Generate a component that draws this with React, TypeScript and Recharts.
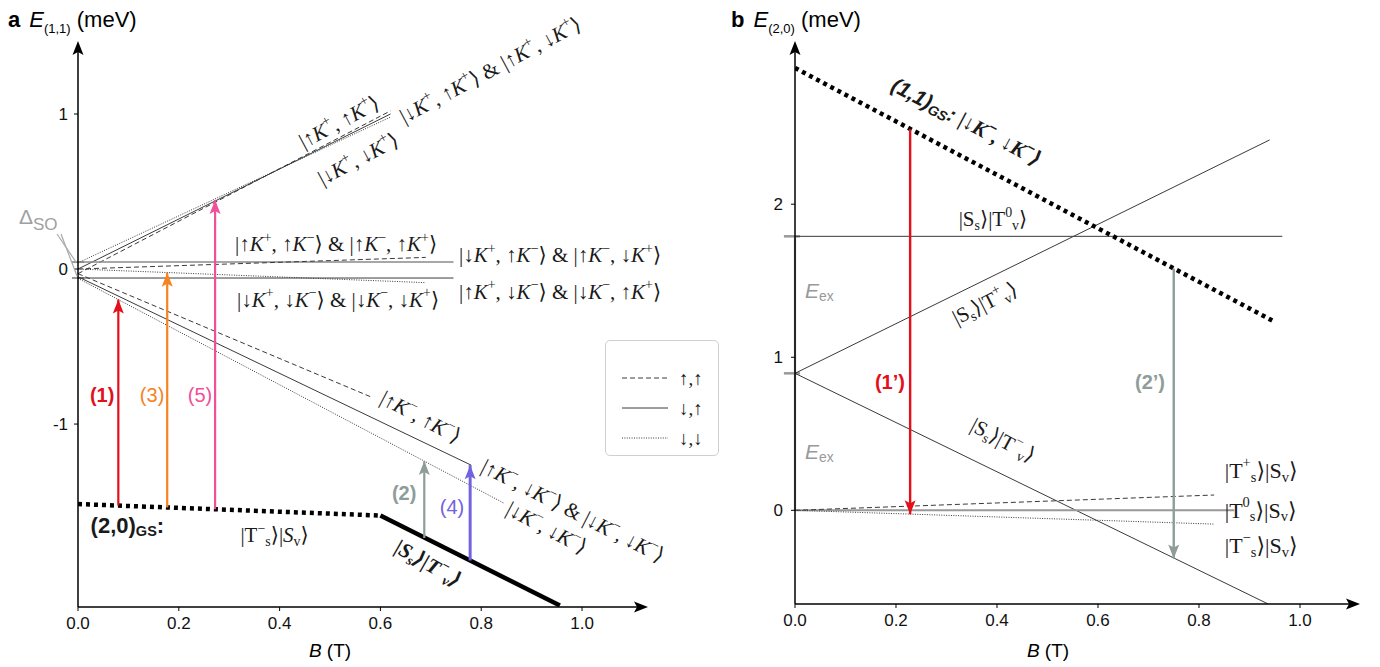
import React from 'react';
import { ComposedChart, Line, XAxis, YAxis, ReferenceDot, ReferenceLine } from 'recharts';

type Pt = { B: number; E: number };

const SANS = '"Liberation Sans", Arial, sans-serif';
const SERIF = '"Liberation Serif", "DejaVu Serif", serif';

// ---------- panel a : (1,1) levels, energy in meV vs field in T ----------
const A_X_MAX = 1.115;
const A_Y_MIN = -2.18;
const A_Y_MAX = 1.445;
const aTicksX = [0, 0.2, 0.4, 0.6, 0.8, 1.0];
const aTicksY = [-1, 0, 1];

const upDashed: Pt[] = [{ B: 0, E: -0.03 }, { B: 0.62, E: 1.02 }];
const upSolid: Pt[] = [{ B: 0, E: 0.0 }, { B: 0.62, E: 1.0 }];
const upDotted: Pt[] = [{ B: 0, E: 0.04 }, { B: 0.62, E: 0.98 }];
const midSolidTop: Pt[] = [{ B: 0, E: 0.045 }, { B: 0.745, E: 0.045 }];
const midDashed: Pt[] = [{ B: 0, E: 0.0 }, { B: 0.69, E: 0.075 }];
const midDotted: Pt[] = [{ B: 0, E: 0.0 }, { B: 0.69, E: -0.088 }];
const midSolidBottom: Pt[] = [{ B: 0, E: -0.058 }, { B: 0.745, E: -0.058 }];
const lowDashed: Pt[] = [{ B: 0, E: -0.03 }, { B: 0.585, E: -0.83 }];
const lowSolid: Pt[] = [{ B: 0, E: -0.05 }, { B: 0.78, E: -1.265 }];
const lowDotted: Pt[] = [{ B: 0, E: -0.06 }, { B: 0.845, E: -1.51 }];
const gs20Dotted: Pt[] = [{ B: 0, E: -1.516 }, { B: 0.6, E: -1.59 }];
const gs20Solid: Pt[] = [{ B: 0.6, E: -1.59 }, { B: 0.956, E: -2.17 }];

// transitions: [start, end], arrow head sits at the end point
const tr1: Pt[] = [{ B: 0.08, E: -1.526 }, { B: 0.08, E: -0.197 }];
const tr3: Pt[] = [{ B: 0.177, E: -1.538 }, { B: 0.177, E: -0.024 }];
const tr5: Pt[] = [{ B: 0.272, E: -1.55 }, { B: 0.272, E: 0.445 }];
const tr2: Pt[] = [{ B: 0.687, E: -1.735 }, { B: 0.687, E: -1.239 }];
const tr4: Pt[] = [{ B: 0.778, E: -1.88 }, { B: 0.778, E: -1.265 }];

// ---------- panel b : (2,0) levels ----------
const B_X_MAX = 1.103;
const B_Y_MIN = -0.612;
const B_Y_MAX = 3.04;
const bTicksX = [0, 0.2, 0.4, 0.6, 0.8, 1.0];
const bTicksY = [0, 1, 2];

const gs11: Pt[] = [{ B: 0, E: 2.89 }, { B: 0.945, E: 1.24 }];
const ssT0v: Pt[] = [{ B: 0, E: 1.79 }, { B: 0.965, E: 1.79 }];
const ssTpv: Pt[] = [{ B: 0, E: 0.895 }, { B: 0.94, E: 2.42 }];
const ssTmv: Pt[] = [{ B: 0, E: 0.895 }, { B: 0.937, E: -0.612 }];
const T0sSv: Pt[] = [{ B: 0, E: 0 }, { B: 0.87, E: 0 }];
const TpsSv: Pt[] = [{ B: 0, E: 0 }, { B: 0.83, E: 0.1 }];
const TmsSv: Pt[] = [{ B: 0, E: 0 }, { B: 0.83, E: -0.09 }];
const tr1p: Pt[] = [{ B: 0.228, E: 2.49 }, { B: 0.228, E: -0.025 }];
const tr2p: Pt[] = [{ B: 0.75, E: 1.58 }, { B: 0.75, E: -0.315 }];
const eexMarks = [0.895, 1.79];

const RED = '#e3101c';
const ORANGE = '#f7821e';
const PINK = '#f0509a';
const GREY = '#8e9d9a';
const PURPLE = '#7262e0';
const INK = '#3a3a3a';

type Spec = { id: string; data: Pt[]; stroke: string; width?: number; dash?: string; arrow?: boolean };

const aSeries: Spec[] = [
  { id: 'upDashed', data: upDashed, stroke: INK, dash: '5 3' },
  { id: 'upSolid', data: upSolid, stroke: INK },
  { id: 'upDotted', data: upDotted, stroke: INK, dash: '1 1.4' },
  { id: 'midSolidTop', data: midSolidTop, stroke: '#8a8a8a', width: 1.4 },
  { id: 'midDashed', data: midDashed, stroke: INK, dash: '5 3' },
  { id: 'midDotted', data: midDotted, stroke: INK, dash: '1 1.4' },
  { id: 'midSolidBottom', data: midSolidBottom, stroke: INK },
  { id: 'lowDashed', data: lowDashed, stroke: INK, dash: '5 3' },
  { id: 'lowSolid', data: lowSolid, stroke: INK },
  { id: 'lowDotted', data: lowDotted, stroke: INK, dash: '1 1.4' },
  { id: 'gs20Dotted', data: gs20Dotted, stroke: '#000', width: 4.5, dash: '4 4' },
  { id: 'gs20Solid', data: gs20Solid, stroke: '#000', width: 4.5 },
  { id: 'tr1', data: tr1, stroke: RED, width: 2.2, arrow: true },
  { id: 'tr3', data: tr3, stroke: ORANGE, width: 2.2, arrow: true },
  { id: 'tr5', data: tr5, stroke: PINK, width: 2.2, arrow: true },
  { id: 'tr2', data: tr2, stroke: GREY, width: 2.2, arrow: true },
  { id: 'tr4', data: tr4, stroke: PURPLE, width: 3, arrow: true },
];

const bSeries: Spec[] = [
  { id: 'ssT0v', data: ssT0v, stroke: INK },
  { id: 'ssTpv', data: ssTpv, stroke: INK },
  { id: 'ssTmv', data: ssTmv, stroke: INK },
  { id: 'T0sSv', data: T0sSv, stroke: '#999', width: 2 },
  { id: 'TpsSv', data: TpsSv, stroke: INK, dash: '5 3' },
  { id: 'TmsSv', data: TmsSv, stroke: INK, dash: '1 1.4' },
  { id: 'gs11', data: gs11, stroke: '#000', width: 4.5, dash: '4 4' },
  { id: 'tr1p', data: tr1p, stroke: RED, width: 2.4, arrow: true },
  { id: 'tr2p', data: tr2p, stroke: GREY, width: 2.4, arrow: true },
];

// text with *italic*, ~serif~, ^{sup} and _{sub} pieces
type RichProps = {
  cx?: number; cy?: number; text: string; size?: number; angle?: number;
  anchor?: 'start' | 'middle' | 'end'; fill?: string; weight?: number | string; family?: string; italic?: boolean;
};
function Rich({ cx = 0, cy = 0, text, size = 21, angle = 0, anchor = 'middle', fill = '#1a1a1a', weight, family = SERIF, italic }: RichProps) {
  const tokens = text.match(/\^\{[^}]*\}|_\{[^}]*\}|\*[^*]*\*|~[^~]*~|[^^_*~]+/g) ?? [];
  let shift = 0;
  const spans = tokens.map((tok, i) => {
    let kind = 'n';
    let body = tok;
    if (tok.startsWith('^{')) { kind = 'sup'; body = tok.slice(2, -1); }
    else if (tok.startsWith('_{')) { kind = 'sub'; body = tok.slice(2, -1); }
    else if (tok.startsWith('*')) { kind = 'it'; body = tok.slice(1, -1); }
    else if (tok.startsWith('~')) { kind = 'serif'; body = tok.slice(1, -1); }
    const target = kind === 'sup' ? -0.36 * size : kind === 'sub' ? 0.28 * size : 0;
    const dy = target - shift;
    shift = target;
    const small = kind === 'sup' || kind === 'sub';
    return (
      <tspan
        key={i}
        dy={dy}
        fontSize={small ? size * 0.66 : size}
        fontStyle={kind === 'it' ? 'italic' : undefined}
        fontFamily={kind === 'serif' ? SERIF : undefined}
      >
        {body}
      </tspan>
    );
  });
  return (
    <text
      x={cx}
      y={cy}
      transform={angle ? `rotate(${angle} ${cx} ${cy})` : undefined}
      textAnchor={anchor}
      dominantBaseline="central"
      fill={fill}
      fontFamily={family}
      fontWeight={weight}
      fontStyle={italic ? 'italic' : undefined}
      fontSize={size}
    >
      {spans}
    </text>
  );
}

type Note = { B: number; E: number } & RichProps;

const aNotes: Note[] = [
  { B: 0.518, E: 0.948, text: '|↑*K*^{+}, ↑*K*^{+}⟩', angle: -28 },
  { B: 0.556, E: 0.71, text: '|↓*K*^{+}, ↓*K*^{+}⟩', angle: -28 },
  { B: 0.818, E: 1.283, text: '|↓*K*^{+}, ↑*K*^{+}⟩ & |↑*K*^{+}, ↓*K*^{+}⟩', angle: -28 },
  { B: 0.512, E: 0.16, text: '|↑*K*^{+}, ↑*K*^{−}⟩ & |↑*K*^{−}, ↑*K*^{+}⟩' },
  { B: 0.756, E: 0.09, text: '|↓*K*^{+}, ↑*K*^{−}⟩ & |↑*K*^{−}, ↓*K*^{+}⟩', anchor: 'start' },
  { B: 0.756, E: -0.145, text: '|↑*K*^{+}, ↓*K*^{−}⟩ & |↓*K*^{−}, ↑*K*^{+}⟩', anchor: 'start' },
  { B: 0.516, E: -0.2, text: '|↓*K*^{+}, ↓*K*^{−}⟩ & |↓*K*^{−}, ↓*K*^{+}⟩' },
  { B: 0.68, E: -0.955, text: '|↑*K*^{−}, ↑*K*^{−}⟩', angle: 28 },
  { B: 0.982, E: -1.56, text: '|↑*K*^{−}, ↓*K*^{−}⟩ & |↓*K*^{−}, ↓*K*^{−}⟩', angle: 27 },
  { B: 0.93, E: -1.67, text: '|↓*K*^{−}, ↓*K*^{−}⟩', angle: 28 },
  { B: 0.025, E: -1.652, text: '(2,0)_{GS}:', anchor: 'start', family: SANS, weight: 700, size: 22 },
  { B: 0.39, E: -1.716, text: '|T^{−}_{s}⟩|*S*_{v}⟩' },
  { B: 0.695, E: -1.9, text: '|S_{s}⟩|T^{−}_{v}⟩', angle: 30, italic: true, weight: 700 },
  { B: 0.048, E: -0.813, text: '(1)', family: SANS, weight: 700, fill: RED, size: 20 },
  { B: 0.147, E: -0.813, text: '(3)', family: SANS, fill: ORANGE, size: 20 },
  { B: 0.242, E: -0.813, text: '(5)', family: SANS, fill: PINK, size: 20 },
  { B: 0.647, E: -1.445, text: '(2)', family: SANS, weight: 700, fill: GREY, size: 20 },
  { B: 0.742, E: -1.535, text: '(4)', family: SANS, fill: PURPLE, size: 20 },
];

const bNotes: Note[] = [
  { B: 0.34, E: 2.54, text: '(1,1)_{GS}: ~|↓K~^{−}~, ↓K~^{−}~⟩~', angle: 28, italic: true, weight: 700, family: SANS, size: 21 },
  { B: 0.392, E: 1.9, text: '|S_{s}⟩|T^{0}_{v}⟩' },
  { B: 0.376, E: 1.353, text: '|S_{s}⟩|T^{+}_{v}⟩', angle: -27 },
  { B: 0.412, E: 0.458, text: '|S_{s}⟩|T^{−}_{v}⟩', angle: 28 },
  { B: 0.188, E: 0.837, text: '(1’)', family: SANS, weight: 700, fill: RED, size: 20 },
  { B: 0.703, E: 0.837, text: '(2’)', family: SANS, weight: 700, fill: GREY, size: 20 },
  { B: 0.851, E: 0.261, text: '|T^{+}_{s}⟩|S_{v}⟩', anchor: 'start', size: 22 },
  { B: 0.851, E: 0.0, text: '|T^{0}_{s}⟩|S_{v}⟩', anchor: 'start', size: 22 },
  { B: 0.851, E: -0.229, text: '|T^{−}_{s}⟩|S_{v}⟩', anchor: 'start', size: 22 },
  { B: 0.02, E: 1.44, text: '*E*_{ex}', anchor: 'start', family: SANS, fill: '#999', size: 21 },
  { B: 0.02, E: 0.39, text: '*E*_{ex}', anchor: 'start', family: SANS, fill: '#999', size: 21 },
];

function headPath(cx: number, cy: number, dir: 'up' | 'down' | 'right', len = 14, half = 5.5) {
  if (dir === 'up') return `M${cx},${cy} L${cx - half},${cy + len} L${cx},${cy + len - 3} L${cx + half},${cy + len} Z`;
  if (dir === 'down') return `M${cx},${cy} L${cx - half},${cy - len} L${cx},${cy - len + 3} L${cx + half},${cy - len} Z`;
  return `M${cx},${cy} L${cx - len},${cy - half} L${cx - len + 3},${cy} L${cx - len},${cy + half} Z`;
}

function renderSeries(list: Spec[]) {
  return list.map((s) => {
    const dir = s.data[1].E > s.data[0].E ? 'up' : 'down';
    const dot = s.arrow
      ? (p: any) =>
          p.index === 1 ? (
            <path key={`${s.id}-h`} d={headPath(p.cx, p.cy, dir)} fill={s.stroke} />
          ) : (
            <g key={`${s.id}-t`} />
          )
      : false;
    return (
      <Line
        key={s.id}
        data={s.data}
        dataKey="E"
        type="linear"
        stroke={s.stroke}
        strokeWidth={s.width ?? 1}
        strokeDasharray={s.dash}
        dot={dot as any}
        activeDot={false}
        isAnimationActive={false}
      />
    );
  });
}

function renderNotes(list: Note[], prefix: string) {
  return list.map((n, i) => {
    const { B, E, ...rest } = n;
    return (
      <ReferenceDot
        key={`${prefix}${i}`}
        x={B}
        y={E}
        r={0}
        ifOverflow="visible"
        shape={(p: any) => <Rich {...rest} cx={p.cx} cy={p.cy} />}
      />
    );
  });
}

function axisArrows(xMax: number, yMin: number, yMax: number) {
  return [
    <ReferenceDot key="ax-x" x={xMax} y={yMin} r={0} ifOverflow="visible"
      shape={(p: any) => <path d={headPath(p.cx + 8, p.cy, 'right')} fill="#000" />} />,
    <ReferenceDot key="ax-y" x={0} y={yMax} r={0} ifOverflow="visible"
      shape={(p: any) => <path d={headPath(p.cx, p.cy - 4, 'up')} fill="#000" />} />,
  ];
}

const tickStyle = { fill: '#111', fontSize: 17, fontFamily: SANS };

function Title({ left, letter, sub }: { left: number; letter: string; sub: string }) {
  return (
    <div style={{ position: 'absolute', left, top: 7, fontFamily: SANS, fontSize: 22, whiteSpace: 'nowrap' }}>
      <b style={{ marginRight: 9 }}>{letter}</b>
      <i>E</i>
      <span style={{ fontSize: 13, position: 'relative', top: 6 }}>{sub}</span>
      <span> (meV)</span>
    </div>
  );
}

function AxisName({ center }: { center: number }) {
  return (
    <div style={{ position: 'absolute', left: center - 40, width: 80, top: 640, textAlign: 'center', fontFamily: SANS, fontSize: 19 }}>
      <i>B</i> (T)
    </div>
  );
}

const legendRows = [
  { label: '↑,↑', dash: '5 3' },
  { label: '↓,↑', dash: undefined },
  { label: '↓,↓', dash: '1 1.4' },
];

function SpinLegend() {
  return (
    <div style={{ position: 'absolute', left: 605, top: 340, width: 114, height: 116, border: '1.5px solid #cfcfcf', borderRadius: 5, boxSizing: 'border-box' }}>
      <svg width={112} height={114} style={{ position: 'absolute', left: 0, top: 0 }}>
        {legendRows.map((r, i) => (
          <g key={r.label}>
            <line x1={16} x2={62} y1={37 + i * 30} y2={37 + i * 30} stroke={INK} strokeWidth={1} strokeDasharray={r.dash} />
            <text x={73} y={37 + i * 30} dominantBaseline="central" fontFamily={SERIF} fontSize={19} fill="#1a1a1a">{r.label}</text>
          </g>
        ))}
      </svg>
    </div>
  );
}

export default function App() {
  return (
    <div style={{ position: 'absolute', left: 0, top: 0, width: 1380, height: 667, background: '#fff', overflow: 'hidden' }}>
      <div style={{ position: 'absolute', left: 0, top: 0 }}>
        <ComposedChart width={700} height={667} margin={{ top: 45, right: 60, bottom: 0, left: 0 }}>
          <XAxis dataKey="B" type="number" domain={[0, A_X_MAX]} ticks={aTicksX} interval={0} allowDataOverflow
            tickFormatter={(v: number) => v.toFixed(1)} height={60} tick={tickStyle} tickSize={4} tickMargin={6}
            axisLine={{ stroke: '#000', strokeWidth: 1.5 }} tickLine={{ stroke: '#000' }} />
          <YAxis type="number" domain={[A_Y_MIN, A_Y_MAX]} ticks={aTicksY} interval={0} allowDataOverflow width={78}
            tick={tickStyle} tickSize={4} tickMargin={6} axisLine={{ stroke: '#000', strokeWidth: 1.5 }} tickLine={{ stroke: '#000' }} />
          {[0.045, -0.058].map((e) => (
            <ReferenceLine key={`so${e}`} segment={[{ x: -0.012, y: e }, { x: 0.012, y: e }]} stroke="#999" strokeWidth={2} ifOverflow="visible" />
          ))}
          {renderSeries(aSeries)}
          {renderNotes(aNotes, 'a')}
          {axisArrows(A_X_MAX, A_Y_MIN, A_Y_MAX)}
        </ComposedChart>
      </div>
      <div style={{ position: 'absolute', left: 700, top: 0 }}>
        <ComposedChart width={680} height={667} margin={{ top: 45, right: 28, bottom: 0, left: 0 }}>
          <XAxis dataKey="B" type="number" domain={[0, B_X_MAX]} ticks={bTicksX} interval={0} allowDataOverflow
            tickFormatter={(v: number) => v.toFixed(1)} height={63} tick={tickStyle} tickSize={4} tickMargin={6}
            axisLine={{ stroke: '#000', strokeWidth: 1.5 }} tickLine={{ stroke: '#000' }} />
          <YAxis type="number" domain={[B_Y_MIN, B_Y_MAX]} ticks={bTicksY} interval={0} allowDataOverflow width={95}
            tick={tickStyle} tickSize={4} tickMargin={8} axisLine={{ stroke: '#000', strokeWidth: 1.5 }} tickLine={{ stroke: '#000' }} />
          <ReferenceLine segment={[{ x: 0, y: 0 }, { x: 0, y: 1.79 }]} stroke="#9a9a9a" strokeWidth={2.2} ifOverflow="visible" />
          {eexMarks.map((e) => (
            <ReferenceLine key={`ex${e}`} segment={[{ x: -0.022, y: e }, { x: 0.01, y: e }]} stroke="#999" strokeWidth={2.5} ifOverflow="visible" />
          ))}
          {renderSeries(bSeries)}
          {renderNotes(bNotes, 'b')}
          {axisArrows(B_X_MAX, B_Y_MIN, B_Y_MAX)}
        </ComposedChart>
      </div>

      <Title left={8} letter="a" sub="(1,1)" />
      <Title left={731} letter="b" sub="(2,0)" />
      <AxisName center={330} />
      <AxisName center={1048} />
      <SpinLegend />

      {/* spin–orbit splitting marker */}
      <div style={{ position: 'absolute', left: 19, top: 205, fontFamily: SANS, fontSize: 21, color: '#a0a0a0' }}>
        Δ<span style={{ fontSize: 17, position: 'relative', top: 6 }}>SO</span>
      </div>
      <svg width={90} height={300} style={{ position: 'absolute', left: 0, top: 0 }}>
        <line x1={57} y1={234} x2={76} y2={262} stroke="#aaa" strokeWidth={1.2} />
        <line x1={61} y1={234} x2={77} y2={276} stroke="#aaa" strokeWidth={1.2} />
      </svg>
    </div>
  );
}
